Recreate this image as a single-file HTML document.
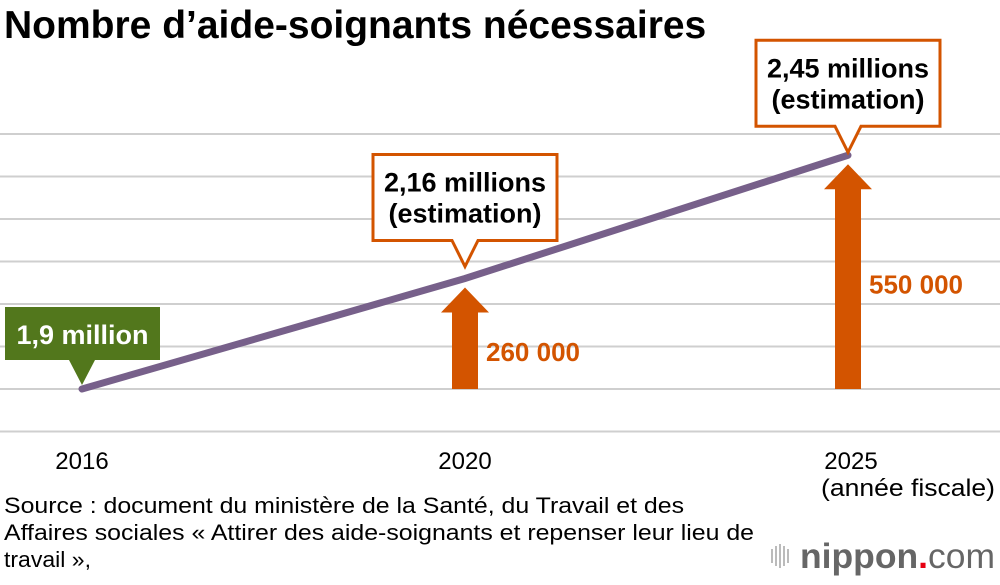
<!DOCTYPE html>
<html><head><meta charset="utf-8"><style>
body{margin:0;background:#fff;width:1000px;height:580px;overflow:hidden;font-family:"Liberation Sans",Arial,sans-serif}
</style></head><body>
<svg width="1000" height="580" xmlns="http://www.w3.org/2000/svg" font-family="Liberation Sans, Arial, sans-serif">
<text x="4" y="38" font-size="39" font-weight="bold" fill="#000">Nombre d’aide-soignants nécessaires</text>
<g id="grid"></g>
<g id="marks"></g>
<g id="xlabels"></g>
<g font-size="22" fill="#000">
<text x="4" y="513" textLength="680" lengthAdjust="spacingAndGlyphs">Source : document du ministère de la Santé, du Travail et des</text>
<text x="4" y="540" textLength="750" lengthAdjust="spacingAndGlyphs">Affaires sociales « Attirer des aide-soignants et repenser leur lieu de</text>
<text x="4" y="567" textLength="87" lengthAdjust="spacingAndGlyphs">travail »,</text>
</g>
<g>
<g fill="#bbb"><rect x="771" y="549" width="2" height="14"/><rect x="775" y="546" width="2" height="20"/><rect x="779" y="544" width="2" height="24"/><rect x="783" y="546" width="2" height="20"/><rect x="787" y="549" width="2" height="14"/></g>
<text x="800" y="568" font-size="35" fill="#666" font-weight="bold" textLength="195" lengthAdjust="spacingAndGlyphs">nippon<tspan fill="#e60012">.</tspan><tspan font-weight="normal">com</tspan></text>
</g>
</svg>
<script>
const years=['2016','2020','2025'];
const values=[1.9,2.16,2.45];
const gridTicks=[1.8,1.9,2.0,2.1,2.2,2.3,2.4,2.5];
const increases=[null,'260 000','550 000'];
const callouts=[['1,9 million'],['2,16 millions','(estimation)'],['2,45 millions','(estimation)']];
const NS='http://www.w3.org/2000/svg';
const xPos=[82,466,848];
function x(i){return xPos[0]+(xPos[2]-xPos[0])*i/(years.length-1);}
function y(v){return 389-(v-1.9)*425;}
function mk(t,a,p){const e=document.createElementNS(NS,t);for(const k in a)e.setAttribute(k,a[k]);p.appendChild(e);return e;}
const grid=document.getElementById('grid'),marks=document.getElementById('marks'),xl=document.getElementById('xlabels');
gridTicks.forEach(t=>{const l=mk('line',{x1:0,x2:1000,y1:y(t),y2:y(t),stroke:'#cfcfcf','stroke-width':2},grid);

});
years.forEach((yr,i)=>{const lines=i==2?[yr,'(année fiscale)']:[yr];
lines.forEach((s,j)=>{const t=mk('text',{x:x(i),y:469+j*27,'font-size':24,'text-anchor':'middle',fill:'#000'},xl);
if(i==2&&j==0)t.setAttribute('x',x(i)+3);
if(i==2&&j==1){t.setAttribute('x',x(i)+60);t.setAttribute('textLength',174);t.setAttribute('lengthAdjust','spacingAndGlyphs');}
t.textContent=s;

});});
values.forEach((v,i)=>{if(!increases[i])return;const cx=x(i),top=y(v)+9,base=y(values[0]);
const a=mk('polygon',{points:`${cx},${top} ${cx+24},${top+25} ${cx+13},${top+25} ${cx+13},${base} ${cx-13},${base} ${cx-13},${top+25} ${cx-24},${top+25}`,fill:'#d35400'},marks);


const ly=i==1?y(values[0])-28:y(v)+138;
const t=mk('text',{x:cx+21,y:ly,'font-size':26,'font-weight':'bold',fill:'#d35400'},marks);
t.textContent=increases[i];

});
const pts=values.map((v,i)=>x(i)+','+y(v)).join(' ');
const pl=mk('polyline',{points:pts,fill:'none',stroke:'#77608a','stroke-width':7,'stroke-linecap':'round'},marks);


const tipOff=[4,12,3];
values.forEach((v,i)=>{const cx=x(i),tip=y(v)-tipOff[i];const lines=callouts[i];
let w,h,bx,by,fill,stroke,col;
if(i==0){w=155;h=53;bx=5;by=tip-78;fill='#52771c';stroke='none';col='#fff';}
else{w=184;h=86;bx=cx-92;by=tip-112;fill='#fff';stroke='#d35400';col='#000';}
const g=mk('g',{},marks);


mk('path',{d:`M${bx},${by} H${bx+w} V${by+h} H${cx+13} L${cx},${tip} L${cx-13},${by+h} H${bx} Z`,fill:fill,stroke:stroke,'stroke-width':3},g);
lines.forEach((s,j)=>{const t=mk('text',{x:bx+w/2,y:by+37+j*31,'font-size':27,'font-weight':'bold','text-anchor':'middle',fill:col},g);t.textContent=s;});});
</script>
</body></html>
